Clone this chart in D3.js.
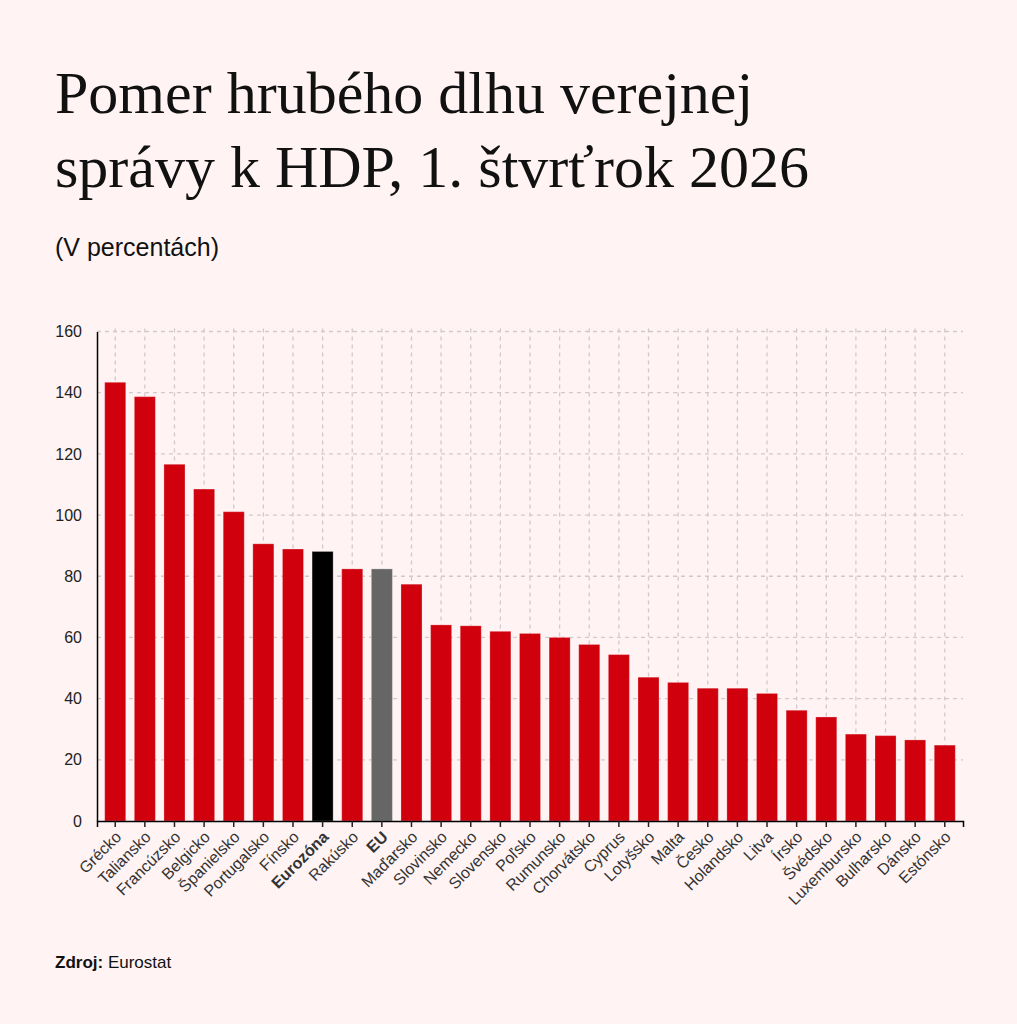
<!DOCTYPE html>
<html>
<head>
<meta charset="utf-8">
<script src="https://cdn.jsdelivr.net/npm/d3@7"></script>
<style>
  html, body { margin: 0; padding: 0; background: #fff3f3; }
  svg { display: block; }
</style>
</head>
<body>
<svg id="chart" width="1017" height="1024"></svg>
<script>
const countries = ["Grécko","Taliansko","Francúzsko","Belgicko","Španielsko","Portugalsko","Fínsko","Eurozóna","Rakúsko","EU","Maďarsko","Slovinsko","Nemecko","Slovensko","Poľsko","Rumunsko","Chorvátsko","Cyprus","Lotyšsko","Malta","Česko","Holandsko","Litva","Írsko","Švédsko","Luxembursko","Bulharsko","Dánsko","Estónsko"];
const values = [143.4,138.7,116.6,108.5,101.1,90.6,88.9,88.1,82.4,82.4,77.4,64.1,63.8,62.0,61.3,60.0,57.7,54.4,47.0,45.3,43.4,43.4,41.7,36.2,34.0,28.4,27.9,26.5,24.8];
const yTicks = [0,20,40,60,80,100,120,140,160];
const highlight = {"Eurozóna":"#000000","EU":"#666666"};
const titleLines = ["Pomer hrubého dlhu verejnej","správy k HDP, 1. štvrťrok 2026"];
const subtitle = "(V percentách)";

(function(){
const data = countries.map((c,i)=>({c, v: values[i]}));
const svg = d3.select("#chart");
svg.append("rect").attr("width",1017).attr("height",1024).attr("fill","#fff3f3");

const pL = 97, pR = 963, pT = 331.5, pB = 821;
const x = d3.scaleBand().domain(countries).range([pL,pR]).paddingInner(0.29).paddingOuter(0.26);
const y = d3.scaleLinear().domain([0,160]).range([pB, pT]);

svg.selectAll("text.title").data(titleLines).enter().append("text")
  .attr("class","title")
  .attr("x",55).attr("y",(d,i)=>113+i*74)
  .attr("font-family","'Liberation Serif','Times New Roman',serif")
  .attr("font-size",60).attr("fill","#111").text(d=>d);

svg.append("text").attr("x",55).attr("y",256)
  .attr("font-family","'Liberation Sans',Arial,sans-serif")
  .attr("font-size",25).attr("fill","#111").text(subtitle);

const grid = svg.append("g");
grid.selectAll("line.h").data(yTicks.filter(d=>d>0)).enter().append("line")
  .attr("x1",pL).attr("x2",pR)
  .attr("y1",d=>y(d)).attr("y2",d=>y(d))
  .attr("stroke","#d2caca").attr("stroke-width",1.3).attr("stroke-dasharray","4,4");
grid.selectAll("line.v").data(countries).enter().append("line")
  .attr("x1",d=>x(d)+x.bandwidth()/2).attr("x2",d=>x(d)+x.bandwidth()/2)
  .attr("y1",pT-3).attr("y2",pB)
  .attr("stroke","#d2caca").attr("stroke-width",1.3).attr("stroke-dasharray","4,4");

svg.append("g").selectAll("rect").data(data).enter().append("rect")
  .attr("x",d=>x(d.c)).attr("width",x.bandwidth())
  .attr("y",d=>y(d.v)).attr("height",d=>pB-y(d.v))
  .attr("fill",d=>highlight[d.c]||"#d0000d")
  .attr("stroke","rgba(255,255,255,0.25)").attr("stroke-width",1);

const yAxis = svg.append("g").attr("transform",`translate(${pL},0)`)
  .call(d3.axisLeft(y).tickValues(yTicks).tickSize(0).tickPadding(15));
yAxis.select(".domain").attr("stroke","#000").attr("stroke-width",1.5);
yAxis.selectAll("text").attr("font-family","'Liberation Sans',Arial,sans-serif")
  .attr("font-size",16).attr("fill","#222");

const xAxis = svg.append("g").attr("transform",`translate(0,${pB})`)
  .call(d3.axisBottom(x).tickSizeOuter(0).tickSize(6));
xAxis.select(".domain").attr("stroke","#000").attr("stroke-width",1.5);
xAxis.selectAll(".tick line").attr("stroke","#222").attr("stroke-width",1.5);
xAxis.selectAll("text")
  .attr("font-family","'Liberation Sans',Arial,sans-serif")
  .attr("font-size",16).attr("fill","#333")
  .attr("font-weight",d=>highlight[d]?"bold":"normal")
  .attr("text-anchor","end")
  .attr("dy","0.35em")
  .attr("transform","translate(3,13) rotate(-45)")
  .attr("y",0).attr("x",0);

const src = svg.append("text").attr("x",55).attr("y",968)
  .attr("font-family","'Liberation Sans',Arial,sans-serif")
  .attr("font-size",17).attr("fill","#111");
src.append("tspan").attr("font-weight","bold").text("Zdroj:");
src.append("tspan").text(" Eurostat");
})();
</script>
</body>
</html>
